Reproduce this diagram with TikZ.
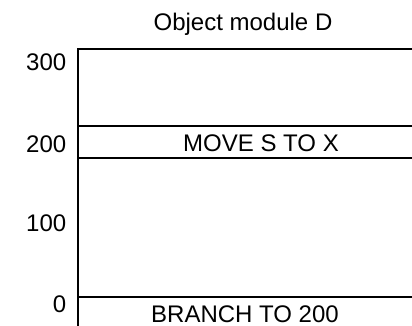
\documentclass[tikz,border=0pt]{standalone}
\usepackage{fontspec}
\setmainfont{Liberation Sans}
\tikzset{
  lbl/.style={font=\fontsize{24}{28}\selectfont, inner sep=0pt, anchor=base},
  addr/.style={lbl, anchor=base east},
}
\begin{document}
\begin{tikzpicture}[x=1pt,y=-1pt,line width=1.5pt]
\useasboundingbox (0,0) rectangle (412,326);
\clip (0,0) rectangle (412,326);
\begin{scope}
\draw
  (78,49) rectangle (440,345)
  (78,126) -- (440,126)
  (78,158) -- (440,158)
  (78,297) -- (440,297)
;
\end{scope}
\node[lbl] (title) at (243,31) {Object module D};
\node[lbl] (move) at (261,151) {MOVE S TO X};
\node[lbl] (branch) at (245,322) {BRANCH TO 200};
% addresses
\node[addr] (a300) at (67,71) {300};
\node[addr] (a200) at (67,152) {200};
\node[addr] (a100) at (67,231) {100};
\node[addr] (a0) at (67,312) {0};
\end{tikzpicture}
\end{document}
